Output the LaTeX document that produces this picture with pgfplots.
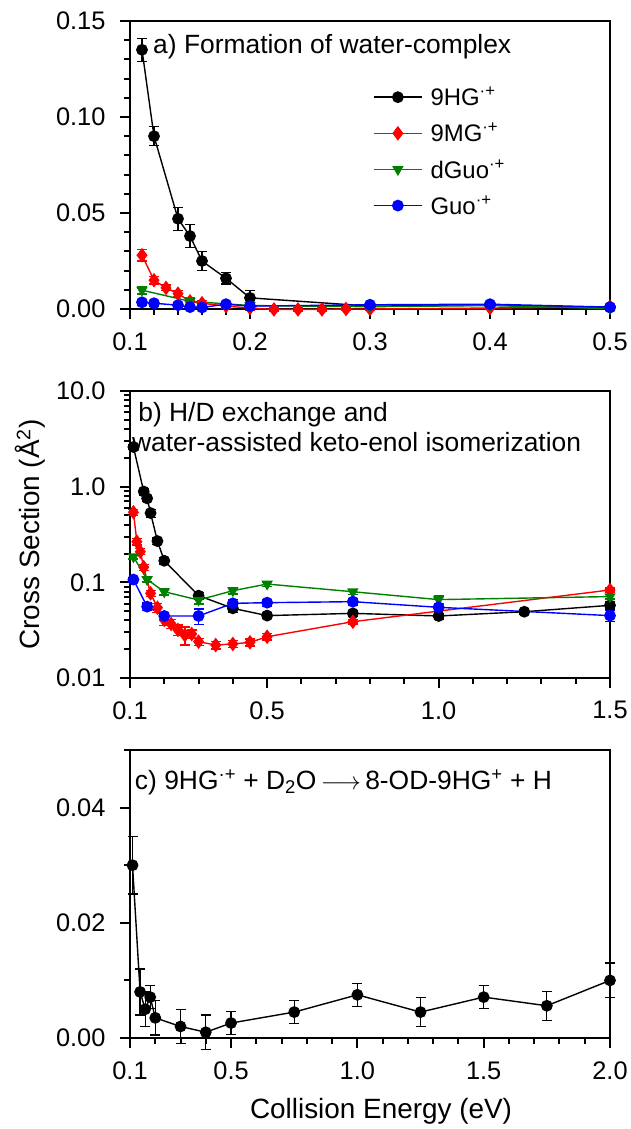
\documentclass[border=0pt]{standalone}
\usepackage{fontspec}
\setmainfont{Liberation Sans}
\usepackage{pgfplots}
\pgfplotsset{compat=1.18}
\definecolor{dgreen}{RGB}{0,128,0}

\newcommand{\txtfont}{\fontsize{28}{33}\selectfont}
\newcommand{\notefont}{\fontsize{26.5}{31}\selectfont}
\newcommand{\tickfont}{\fontsize{25.5}{30}\selectfont}

\pgfplotsset{
  panel/.style={
    scale only axis, width=480bp, height=288bp,
    font=\txtfont,
    scaled ticks=false,
    axis line style={line width=2.4bp},
    tick align=outside, xtick pos=left, ytick pos=left,
    major tick length=10bp, minor tick length=6bp,
    tick style={line width=2bp, black},
    tick label style={font=\tickfont},
    clip=false,
    xticklabel style={yshift=-10bp},
    yticklabel style={xshift=-11bp},
  },
  ser/.style={line width=1.4bp, mark size=5.2bp,
    error bars/y dir=both, error bars/y explicit,
    error bars/error bar style={line width=1.3bp},
    error bars/error mark options={rotate=90, mark size=5bp, line width=1.3bp}},
}

\begin{document}
\begin{tikzpicture}
\useasboundingbox (0,0) rectangle (631bp,-1129bp);

% ---------- a) water complex
\begin{axis}[panel, at={(130bp,-309bp)}, anchor=south west,
  xmin=0.1, xmax=0.5, ymin=0, ymax=0.15,
  xtick={0.1,0.2,0.3,0.4,0.5}, xticklabels={0.1,0.2,0.3,0.4,0.5},
  minor xtick={0.12,0.14,...,0.48},
  ytick={0,0.05,0.1,0.15}, yticklabels={0.00,0.05,0.10,0.15},
  minor ytick={0.01,0.02,0.03,0.04,0.06,0.07,0.08,0.09,0.11,0.12,0.13,0.14},
  legend style={at={(rel axis cs:0.50,0.785)}, anchor=north west, draw=none, fill=none,
    font=\fontsize{24}{28}\selectfont, row sep=12bp},
  legend cell align=left,
  legend image code/.code={\draw[mark repeat=2,mark phase=2] plot coordinates {(0bp,0bp) (24bp,0bp) (48bp,0bp)}; \path (54bp,0bp);},
]
\addplot[ser, black, mark=*] table[y error index=2] {
0.11 0.135 0.006
0.12 0.090 0.005
0.14 0.047 0.006
0.15 0.038 0.006
0.16 0.025 0.005
0.18 0.016 0.003
0.20 0.0058 0.004
0.30 0.0015 0.001
0.40 0.0020 0.001
0.50 0.0008 0.001
};
\addlegendentry{9HG\textsuperscript{·+}}
\addplot[ser, red, mark=diamond*, mark size=6.2bp] table[y error index=2] {
0.11 0.028 0.003
0.12 0.015 0.002
0.13 0.011 0.0015
0.14 0.008 0.0015
0.15 0.004 0.002
0.16 0.003 0.0015
0.18 0.0015 0.001
0.20 0.0005 0.001
0.22 -0.0002 0.0008
0.24 -0.0002 0.0008
0.26 -0.0002 0.0008
0.28 0.0 0.0008
0.30 0.0 0.0008
0.40 0.0005 0.0008
0.50 0.0012 0.0008
};
\addlegendentry{9MG\textsuperscript{·+}}
\addplot[ser, dgreen, mark=triangle*, mark options={rotate=180}] table[y error index=2] {
0.11 0.0098 0.002
0.15 0.0040 0.002
0.20 0.0018 0.001
0.30 0.0012 0.001
0.40 0.0018 0.001
0.50 0.0002 0.001
};
\addlegendentry{dGuo\textsuperscript{·+}}
\addplot[ser, blue, mark=*] table[y error index=2] {
0.11 0.0035 0.0015
0.12 0.0030 0.0015
0.14 0.0020 0.001
0.15 0.0010 0.001
0.16 0.0008 0.001
0.18 0.0025 0.001
0.20 0.0015 0.001
0.30 0.0022 0.001
0.40 0.0025 0.001
0.50 0.0010 0.001
};
\addlegendentry{Guo\textsuperscript{·+}}
\node[anchor=west, inner sep=0, font=\notefont] at (rel axis cs:0.048,0.91) {a) Formation of water-complex};
\end{axis}

% ---------- b) H/D exchange
\begin{axis}[panel, at={(130bp,-678bp)}, anchor=south west, height=287bp,
  ymode=log, xmin=0.1, xmax=1.5, ymin=0.01, ymax=10,
  xtick={0.1,0.5,1.0,1.5}, xticklabels={0.1,0.5,1.0,1.5},
  minor xtick={0.2,0.3,0.4,0.6,0.7,0.8,0.9,1.1,1.2,1.3,1.4},
  ytick={0.01,0.1,1,10}, yticklabels={0.01,0.1,1.0,10.0},
  ylabel={Cross Section (Å\textsuperscript{2})},
  ylabel style={at={(rel axis cs:-0.208,0.5)}, anchor=center, rotate=0},
]
\addplot[ser, black, mark=*] table[y error index=2] {
0.11 2.6 0.15
0.14 0.89 0.07
0.15 0.755 0.06
0.16 0.53 0.05
0.18 0.27 0.02
0.20 0.168 0.012
0.30 0.0726 0.006
0.40 0.0535 0.005
0.50 0.0449 0.003
0.75 0.0474 0.003
1.00 0.0445 0.003
1.25 0.0493 0.003
1.50 0.0575 0.005
};
\addplot[ser, red, mark=diamond*, mark size=6.2bp] table[y error index=2] {
0.11 0.54 0.04
0.12 0.266 0.02
0.13 0.209 0.015
0.14 0.144 0.01
0.16 0.0767 0.006
0.18 0.0543 0.006
0.20 0.0404 0.005
0.22 0.0367 0.004
0.24 0.0318 0.004
0.26 0.0281 0.006
0.28 0.0288 0.003
0.30 0.0240 0.002
0.35 0.0221 0.002
0.40 0.0227 0.002
0.45 0.0236 0.002
0.50 0.0270 0.002
0.75 0.0388 0.002
1.50 0.0832 0.004
};
\addplot[ser, dgreen, mark=triangle*, mark options={rotate=180}] table[y error index=2] {
0.11 0.185 0.01
0.15 0.107 0.006
0.20 0.0798 0.006
0.30 0.0653 0.006
0.40 0.0818 0.006
0.50 0.0960 0.005
0.75 0.0798 0.005
1.00 0.0660 0.006
1.50 0.0710 0.004
};
\addplot[ser, blue, mark=*] table[y error index=2] {
0.11 0.107 0.006
0.15 0.0557 0.005
0.20 0.0445 0.004
0.30 0.0445 0.008
0.40 0.0603 0.006
0.50 0.0613 0.005
0.75 0.0628 0.005
1.00 0.0548 0.004
1.50 0.0449 0.006
};
\node[anchor=west, inner sep=0, font=\notefont] at (rel axis cs:0.017,0.916) {b) H/D exchange and};
\node[anchor=west, inner sep=0, font=\notefont] at (rel axis cs:0.004,0.822) {water-assisted keto-enol isomerization};
\end{axis}

% ---------- c) 8-OD-9HG+ formation
\begin{axis}[panel, at={(130bp,-1038bp)}, anchor=south west,
  xmin=0.1, xmax=2.0, ymin=0, ymax=0.05,
  xtick={0.1,0.5,1.0,1.5,2.0}, xticklabels={0.1,0.5,1.0,1.5,2.0},
  minor xtick={0.2,0.3,0.4,0.6,0.7,0.8,0.9,1.1,1.2,1.3,1.4,1.6,1.7,1.8,1.9},
  ytick={0,0.02,0.04}, yticklabels={0.00,0.02,0.04},
  minor ytick={0.01,0.03,0.05},
  xlabel={Collision Energy (eV)},
  xlabel style={at={(rel axis cs:0.523,-0.253)}, anchor=center},
]
\addplot[ser, black, mark=*] table[y error index=2] {
0.11 0.0300 0.005
0.14 0.0080 0.004
0.16 0.0050 0.003
0.18 0.0071 0.002
0.20 0.0035 0.003
0.30 0.0020 0.003
0.40 0.0010 0.003
0.50 0.0026 0.002
0.75 0.0045 0.002
1.00 0.0075 0.002
1.25 0.0045 0.0025
1.50 0.0071 0.002
1.75 0.0056 0.0025
2.00 0.0100 0.003
};
\node[anchor=west, inner sep=0, font=\notefont] at (rel axis cs:0.010,0.889)
  {c) 9HG\textsuperscript{·+} + D\textsubscript{2}O\,$\longrightarrow$\,8-OD-9HG\textsuperscript{+} + H};
\end{axis}
\end{tikzpicture}
\end{document}
